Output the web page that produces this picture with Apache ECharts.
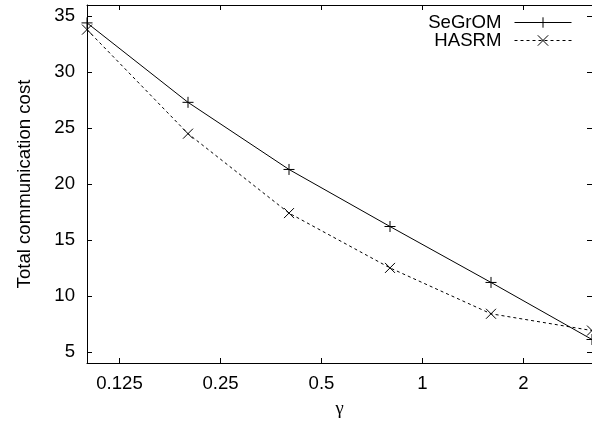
<!DOCTYPE html>
<html>
<head>
<meta charset="utf-8">
<script src="https://cdn.jsdelivr.net/npm/echarts@6/dist/echarts.min.js"></script>
<style>
html,body{margin:0;padding:0;background:#fff;}
#chart{width:592px;height:428px;}
</style>
</head>
<body>
<div id="chart"></div>
<script>
// Data
const gammaValues = [0.1, 0.2, 0.4, 0.8, 1.6, 3.2];
const segromCost = [34.4, 27.3, 21.3, 16.2, 11.2, 6.1];
const hasrmCost = [33.8, 24.5, 17.4, 12.5, 8.4, 6.9];
const seriesNames = ['SeGrOM', 'HASRM'];
const xTitle = 'γ';
const yTitle = 'Total communication cost';

const font = 'Liberation Sans, Arial, Helvetica, sans-serif';
const fsize = 18.6;
const plusPath = 'path://M0,5L10,5M5,0L5,10';
const crossPath = 'path://M0,0L10,10M10,0L0,10';

function pairs(xs, ys) { return xs.map((x, i) => [x, ys[i]]); }
function fmt(v) { return String(Math.round(v * 1000) / 1000); }

const xCommon = {
  type: 'log', logBase: 2, min: 0.1, max: 3.2,
  splitLine: {show: false},
  axisLine: {show: true, lineStyle: {color: '#000', width: 1}},
  axisTick: {show: true, inside: true, length: 5, lineStyle: {color: '#000', width: 1}},
  minorTick: {show: false}
};
const yCommon = {
  type: 'value', min: 4, max: 36, splitNumber: 6,
  splitLine: {show: false},
  axisLine: {show: true, onZero: false, lineStyle: {color: '#000', width: 1}},
  axisTick: {show: true, inside: true, length: 5, lineStyle: {color: '#000', width: 1}}
};

const chart = echarts.init(document.getElementById('chart'), null, {renderer: 'canvas'});
chart.setOption({
  animation: false,
  backgroundColor: '#fff',
  grid: {left: 87, top: 5, width: 509, height: 358, containLabel: false},
  legend: {
    orient: 'vertical', right: 15, top: 8, align: 'right',
    itemWidth: 57, itemHeight: 13, itemGap: -1,
    textStyle: {fontFamily: font, fontSize: fsize, color: '#000', padding: [0, 8, 0, 0]},
    lineStyle: {width: 1, color: '#000'},
    itemStyle: {color: 'none', borderColor: '#000', borderWidth: 1},
    data: seriesNames
  },
  xAxis: [
    Object.assign({}, xCommon, {
      position: 'bottom',
      name: xTitle, nameLocation: 'middle', nameGap: 37,
      nameTextStyle: {fontFamily: 'Liberation Serif, serif', fontSize: fsize, color: '#000'},
      axisLabel: {show: true, margin: 11, showMinLabel: false, showMaxLabel: false,
        fontFamily: font, fontSize: fsize, color: '#000', formatter: fmt}
    }),
    Object.assign({}, xCommon, {position: 'top', axisLabel: {show: false}})
  ],
  yAxis: [
    Object.assign({}, yCommon, {
      position: 'left',
      name: yTitle, nameLocation: 'middle', nameGap: 53, nameRotate: 90,
      nameTextStyle: {fontFamily: font, fontSize: fsize, color: '#000'},
      axisLabel: {show: true, margin: 12, showMinLabel: false, showMaxLabel: false,
        fontFamily: font, fontSize: fsize, color: '#000'}
    }),
    Object.assign({}, yCommon, {position: 'right', axisLabel: {show: false}})
  ],
  series: [
    {
      name: seriesNames[0], type: 'line', xAxisIndex: 0, yAxisIndex: 0,
      data: pairs(gammaValues, segromCost),
      symbol: plusPath, symbolSize: 11,
      lineStyle: {color: '#000', width: 1, type: 'solid'},
      itemStyle: {color: 'none', borderColor: '#000', borderWidth: 1},
      emphasis: {disabled: true}
    },
    {
      name: seriesNames[1], type: 'line', xAxisIndex: 0, yAxisIndex: 0,
      data: pairs(gammaValues, hasrmCost),
      symbol: crossPath, symbolSize: 10,
      lineStyle: {color: '#000', width: 1, type: [3, 3]},
      itemStyle: {color: 'none', borderColor: '#000', borderWidth: 1},
      emphasis: {disabled: true}
    }
  ]
});
</script>
</body>
</html>
